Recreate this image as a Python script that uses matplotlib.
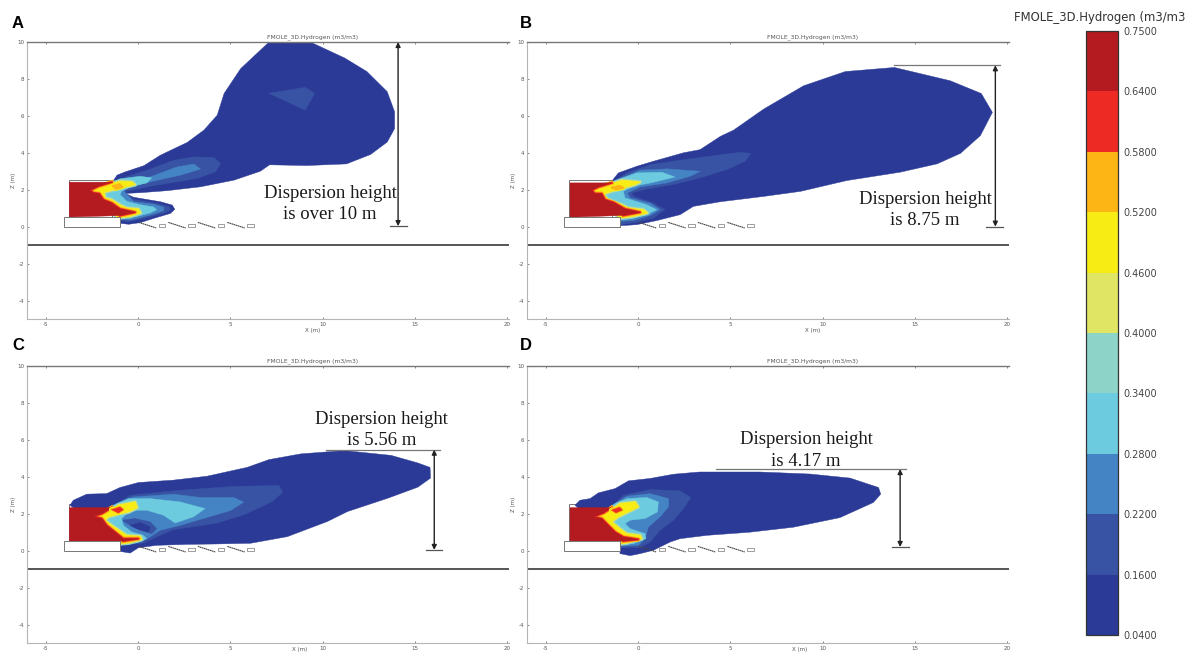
import matplotlib
matplotlib.use('Agg')
import matplotlib.pyplot as plt
from matplotlib.cm import ScalarMappable
from matplotlib.colors import BoundaryNorm, ListedColormap
from matplotlib.patches import Rectangle

# Colour scale
LEVELS = [0.04, 0.16, 0.22, 0.28, 0.34, 0.40, 0.46, 0.52, 0.58, 0.64, 0.75]
COLORS = ['#2a3a96', '#3853a4', '#4484c4', '#6dcbdf', '#8dd3c7',
          '#e1e564', '#f7ec13', '#fdb515', '#ee2a24', '#b31b21']
SCALE_TITLE = 'FMOLE_3D.Hydrogen (m3/m3'
PANEL_TITLE = 'FMOLE_3D.Hydrogen (m3/m3)'

# Axis ticks
X_TICKS = [-5, 0, 5, 10, 15, 20]
Z_TICKS = [-4, -2, 0, 2, 4, 6, 8, 10]

# Geometry on the ground (m)
TRAY_STARTS = [0.04, 1.64, 3.24, 4.84]
TRAY_BOXES = [1.12, 2.72, 4.32, 5.92]

# Panel A contours (x, z in m)
A_OUTER = [(-1.41, 2.38), (-1.14, 2.79), (-0.69, 2.97), (0.31, 3.3), (1.21, 3.87), (2.66, 4.56),
           (3.57, 5.23), (4.29, 6.04), (4.66, 7.21), (5.56, 8.56), (7.1, 10), (9.33, 10),
           (11.2, 9.13), (12.4, 8.4), (13.5, 7.31), (13.9, 6.22), (13.9, 5.31), (13.5, 4.58),
           (12.6, 3.91), (11.3, 3.4), (9.15, 3.31), (7.13, 3.35), (6.62, 3.0), (5.2, 2.52),
           (3.39, 2.16), (1.58, 1.95), (0.13, 1.84), (-0.69, 1.8), (-0.24, 1.59), (1.21, 1.35),
           (1.85, 1.17), (1.99, 0.94), (1.76, 0.72), (0.85, 0.45), (0.13, 0.22), (-0.51, 0.13),
           (-0.96, 0.18), (-1.0, 0.5)]
A_PATCH = [(7.08, 7.22), (9.06, 7.55), (9.57, 7.22), (9.06, 6.31)]
A_L1 = [(-1.3, 2.5), (0.49, 3.06), (1.94, 3.6), (3.03, 3.78), (4.11, 3.75), (4.47, 3.42), (4.2, 2.97),
        (3.2, 2.61), (1.58, 2.34), (0.49, 2.16), (-0.33, 1.98), (-0.78, 1.89), (-0.24, 1.48),
        (1.03, 1.26), (1.67, 1.08), (1.76, 0.9), (1.39, 0.72), (0.31, 0.45), (-0.51, 0.27), (-1.0, 0.35)]
A_L2 = [(-1.3, 2.45), (0.67, 2.7), (2.12, 3.24), (3.03, 3.39), (3.39, 3.12), (2.3, 2.79), (0.67, 2.43),
        (-0.42, 2.16), (-0.78, 1.95), (-0.24, 1.35), (0.85, 1.22), (1.39, 1.05), (1.39, 0.86),
        (0.67, 0.63), (-0.42, 0.36), (-1.0, 0.4)]
A_CYAN = [(-1.43, 2.37), (-0.98, 2.59), (0.11, 2.73), (0.74, 2.64), (0.47, 2.37), (-0.43, 2.15),
          (-0.89, 1.92), (-0.98, 1.74), (-0.61, 1.37), (0.11, 1.19), (0.83, 1.07), (1.01, 0.92),
          (0.65, 0.74), (-0.07, 0.56), (-0.98, 0.47), (-1.88, 1.28), (-1.97, 1.92)]
A_YELLOW = [(-2.78, 1.92), (-2.33, 2.22), (-1.43, 2.33), (-0.98, 2.46), (-0.34, 2.42), (-0.16, 2.28),
            (-0.89, 2.1), (-1.43, 1.97), (-1.84, 1.86), (-1.79, 1.56), (-1.43, 1.46), (-1.01, 1.19),
            (-0.61, 1.01), (0.02, 0.96), (0.14, 0.74), (-0.43, 0.56), (-1.07, 0.49)]
A_NOTCH = [(-1.35, 2.2), (-1.0, 2.3), (-0.85, 2.15), (-1.2, 2.05)]
A_RED = [(-3.73, 2.41), (-1.43, 2.41), (-2.15, 2.19), (-2.6, 1.97), (-2.42, 1.83), (-2.1, 1.79),
         (-1.88, 1.46), (-1.43, 1.28), (-0.98, 0.96), (-0.16, 0.78), (-0.98, 0.6), (-3.73, 0.52)]

# Panel B contours
B_OUTER = [(-1.43, 2.46), (-1.07, 2.91), (-0.07, 3.27), (0.83, 3.54), (2.46, 4.0), (3.36, 4.17),
           (4.46, 4.89), (5.18, 5.23), (6.81, 6.37), (8.97, 7.63), (11.23, 8.4), (13.89, 8.62),
           (16.92, 7.9), (18.6, 7.21), (19.2, 6.19), (18.55, 4.93), (17.47, 3.97), (16.2, 3.4),
           (14.2, 2.95), (11.32, 2.5), (8.79, 1.91), (6.81, 1.64), (4.46, 1.35), (3.0, 1.1),
           (2.28, 0.65), (1.01, 0.33), (-0.07, 0.11), (-0.98, 0.05)]
B_L1 = [(-1.3, 2.46), (-0.61, 2.91), (0.65, 3.36), (2.46, 3.63), (5.53, 4.03), (6.11, 3.96), (5.8, 3.54),
        (4.81, 3.09), (3.36, 2.64), (1.92, 2.28), (0.47, 2.04), (-0.34, 1.83), (-0.25, 1.65), (0.83, 1.28),
        (1.46, 0.92), (0.83, 0.47), (-0.07, 0.24), (-0.98, 0.11)]
B_L2 = [(-1.25, 2.5), (0.11, 3.06), (1.56, 3.13), (3.36, 3.0), (2.82, 2.73), (1.56, 2.37), (0.11, 2.15),
        (-0.58, 1.83), (-0.43, 1.56), (0.65, 1.28), (1.19, 0.92), (0.65, 0.6), (-0.25, 0.34), (-0.98, 0.29)]
B_CYAN = [(-1.34, 2.46), (-0.07, 2.91), (1.28, 2.95), (2.0, 2.69), (0.83, 2.4), (-0.25, 2.19), (-0.8, 1.92),
          (-0.71, 1.56), (0.47, 1.19), (1.01, 0.92), (0.47, 0.65), (-0.43, 0.42), (-0.98, 0.38),
          (-1.88, 1.46), (-1.97, 1.92)]
B_YELLOW = [(-2.6, 2.0), (-2.24, 2.22), (-1.43, 2.31), (-0.89, 2.51), (0.11, 2.42), (-0.16, 2.28), (-0.8, 2.1),
            (-1.61, 1.86), (-1.88, 1.74), (-1.61, 1.46), (-0.89, 1.19), (-0.52, 1.01), (0.29, 0.92),
            (0.51, 0.74), (-0.25, 0.56), (-0.98, 0.47)]
B_NOTCH = [(-1.4, 2.12), (-1.0, 2.2), (-0.8, 2.1), (-1.2, 2.02)]
B_RED = [(-3.69, 2.37), (-1.43, 2.37), (-2.15, 2.15), (-2.51, 1.97), (-2.33, 1.79), (-1.97, 1.79),
         (-1.79, 1.46), (-1.34, 1.32), (-0.71, 0.96), (0.11, 0.78), (-0.8, 0.61), (-3.69, 0.51)]

# Panel C contours
C_OUTER = [(-3.69, 2.46), (-3.51, 2.73), (-2.78, 3.06), (-1.7, 3.09), (-0.98, 3.42), (0.02, 3.69), (1.92, 3.82),
           (3.73, 4.03), (5.91, 4.51), (7.09, 4.93), (8.81, 5.24), (11.17, 5.42), (13.71, 5.16), (15.16, 4.75),
           (15.82, 4.51), (15.85, 3.93), (15.16, 3.44), (13.53, 2.84), (11.35, 2.12), (10.26, 1.58), (8.09, 0.76),
           (6.09, 0.4), (4.09, 0.36), (2.64, 0.34), (1.01, 0.29), (0.02, 0.16), (-0.43, -0.13), (-0.98, -0.04),
           (-1.07, 0.47)]
C_L1 = [(-1.43, 2.4), (-0.43, 3.0), (1.92, 3.24), (3.37, 3.35), (5.18, 3.48), (7.63, 3.53), (7.85, 3.17),
        (7.27, 2.66), (5.73, 1.94), (4.27, 1.49), (1.92, 1.14), (1.01, 0.74), (0.29, 0.42), (-0.43, 0.34), (-0.98, 0.38)]
C_L2 = [(-1.16, 2.55), (-0.25, 2.91), (1.92, 3.06), (3.37, 2.88), (5.18, 2.88), (5.73, 2.63), (5.0, 2.17),
        (3.91, 1.85), (2.28, 1.37), (1.19, 1.1), (0.65, 0.74), (0.11, 0.47), (-0.98, 0.42)]
C_HOLE_L1 = [(-0.89, 1.65), (-0.16, 1.74), (0.65, 1.56), (1.01, 1.19), (0.74, 0.92), (0.11, 1.1), (-0.43, 1.37)]
C_HOLE_L0 = [(-0.43, 1.37), (0.11, 1.52), (0.65, 1.28), (0.56, 1.01), (-0.07, 1.19)]
C_CYAN = [(-1.34, 2.46), (-0.52, 2.82), (0.65, 2.82), (2.28, 2.64), (3.63, 2.28), (3.0, 1.83), (2.01, 1.5),
          (1.37, 1.92), (0.47, 2.19), (-0.43, 2.19), (-0.89, 1.74), (-0.8, 1.37), (-0.34, 1.01), (0.29, 0.83),
          (0.47, 0.65), (-0.07, 0.42), (-0.98, 0.42), (-1.79, 1.65), (-1.88, 2.1)]
C_YELLOW = [(-2.51, 1.92), (-1.97, 2.1), (-1.43, 2.19), (-1.07, 2.46), (-0.16, 2.64), (-0.04, 2.33), (-0.52, 2.1),
            (-0.98, 2.0), (-1.61, 1.83), (-1.79, 1.65), (-1.43, 1.37), (-0.89, 1.01), (-0.61, 0.83), (0.11, 0.78),
            (0.2, 0.61), (-0.52, 0.42), (-0.98, 0.38)]
C_NOTCH = [(-1.43, 2.22), (-0.98, 2.37), (-0.8, 2.22), (-1.07, 2.04)]
C_RED = [(-3.73, 2.33), (-1.43, 2.33), (-1.97, 2.0), (-2.42, 1.86), (-1.97, 1.74), (-1.7, 1.37), (-1.25, 1.01),
         (-0.8, 0.65), (0.02, 0.65), (-0.8, 0.52), (-3.73, 0.47)]

# Panel D contours
D_OUTER = [(-3.42, 2.46), (-3.15, 2.73), (-2.6, 2.82), (-2.15, 3.13), (-1.25, 3.36), (-0.52, 3.78), (0.65, 3.91),
           (1.92, 4.14), (3.33, 4.26), (6.59, 4.26), (9.31, 4.15), (11.49, 3.93), (13.03, 3.42), (13.15, 3.06),
           (12.75, 2.61), (10.94, 1.79), (8.41, 1.27), (6.05, 1.0), (3.73, 0.83), (2.28, 0.65), (1.74, 0.47),
           (0.83, 0.02), (0.11, -0.16), (-0.43, -0.27), (-0.98, -0.16), (-1.01, 0.42)]
D_L1 = [(-1.34, 2.46), (-0.8, 3.0), (0.65, 3.31), (2.28, 3.24), (2.86, 2.88), (2.46, 2.28), (1.92, 1.65),
        (1.19, 1.1), (0.65, 0.47), (0.11, 0.16), (-0.98, 0.16)]
D_L2 = [(-1.25, 2.55), (-0.61, 2.95), (0.65, 3.09), (1.65, 2.82), (1.65, 2.37), (1.19, 1.83), (0.56, 1.28),
        (0.38, 0.65), (0.02, 0.29), (-0.98, 0.24)]
D_CYAN = [(-1.25, 2.55), (-0.61, 2.82), (0.47, 2.88), (1.1, 2.64), (1.05, 2.1), (0.38, 1.74), (-0.43, 1.65),
          (-0.71, 1.46), (-0.43, 1.19), (0.38, 0.92), (0.43, 0.65), (-0.25, 0.38), (-0.98, 0.34), (-1.79, 1.46),
          (-1.88, 2.1)]
D_YELLOW = [(-2.51, 1.92), (-1.88, 2.1), (-1.34, 2.28), (-0.98, 2.55), (-0.16, 2.64), (0.02, 2.37), (-0.52, 2.1),
            (-1.07, 1.83), (-1.43, 1.56), (-0.98, 1.19), (-0.61, 0.92), (0.11, 0.83), (0.2, 0.65), (-0.61, 0.42),
            (-0.98, 0.38)]
D_NOTCH = [(-1.43, 2.2), (-1.0, 2.35), (-0.85, 2.2), (-1.2, 2.05)]
D_RED = [(-3.69, 2.33), (-1.43, 2.33), (-1.88, 2.04), (-2.42, 1.83), (-1.97, 1.74), (-1.61, 1.37), (-1.25, 1.01),
         (-0.8, 0.74), (0.02, 0.61), (-0.8, 0.52), (-3.69, 0.47)]

W, H = 1191, 654
plt.rcParams['axes.unicode_minus'] = False


def box(left, top, right, bottom):
    """Figure fraction rectangle from pixel edges."""
    return [left / W, 1 - bottom / H, (right - left) / W, (bottom - top) / H]


def fill_poly(ax, points, color, zorder, **kwargs):
    xs, zs = zip(*points)
    ax.fill(xs, zs, color=color, lw=0.3, zorder=zorder, **kwargs)


def draw_band(ax, points, inner, middle, outer, zorder):
    """Filled contour with two thin neighbouring levels stroked round it."""
    xs, zs = zip(*(points + points[:1]))
    ax.plot(xs, zs, color=outer, lw=3.0, zorder=zorder, solid_joinstyle='round')
    ax.plot(xs, zs, color=middle, lw=1.5, zorder=zorder, solid_joinstyle='round')
    fill_poly(ax, points, inner, zorder)


def draw_core(ax, points, zorder):
    """Dark red core; only its free edge (not the wall side) gets the thin bands."""
    xs, zs = zip(*points)
    ax.plot(xs[1:-1], zs[1:-1], color=COLORS[7], lw=3.0, zorder=zorder, solid_joinstyle='round')
    ax.plot(xs[1:-1], zs[1:-1], color=COLORS[8], lw=1.6, zorder=zorder, solid_joinstyle='round')
    fill_poly(ax, points, COLORS[9], zorder)


def draw_panel(ax, letter, outer, l1, l2, cyan, yellow, notch, red, height_line, bottom_line, arrow_x,
               note, note_xy):
    ax.set_xlim(-6.02, 20.1)
    ax.set_ylim(-5, 10)
    ax.set_xticks(X_TICKS)
    ax.set_yticks(Z_TICKS)
    ax.tick_params(labelsize=4, colors='#555555', length=1.5, width=0.5, direction='in', pad=2, top=True)
    # The lower panels sit close to the bottom edge, so their label is pulled in beside the 10 tick
    if letter in 'CD':
        ax.set_xlabel('X (m)', fontsize=4, color='#555555', labelpad=-2.5, x=0.565)
    else:
        ax.set_xlabel('X (m)', fontsize=4, color='#555555', labelpad=1, x=0.593)
    ax.set_ylabel('Z (m)', fontsize=4, color='#555555', labelpad=1)
    ax.set_title(PANEL_TITLE, fontsize=4.3, color='#555555', pad=2.5, x=0.593)
    ax.spines['right'].set_visible(False)
    ax.spines['top'].set_color('#777777')
    ax.spines['top'].set_linewidth(1.0)
    ax.spines['left'].set_color('#b5b5b5')
    ax.spines['bottom'].set_color('#b5b5b5')

    # Ground line and building
    ax.axhline(-1, color='#555555', lw=1.4, zorder=1)
    ax.add_patch(Rectangle((-3.75, 0.5), 2.35, 2.0, fc='white', ec='#777777', lw=0.7, zorder=1))

    # Plume levels, low to high
    fill_poly(ax, outer, COLORS[0], 2)
    fill_poly(ax, l1, COLORS[1], 2.1)
    fill_poly(ax, l2, COLORS[2], 2.2)
    if letter == 'C':
        fill_poly(ax, C_HOLE_L1, COLORS[1], 2.3)
        fill_poly(ax, C_HOLE_L0, COLORS[0], 2.31)
    fill_poly(ax, cyan, COLORS[3], 2.4)
    draw_band(ax, yellow, COLORS[6], COLORS[5], COLORS[4], 2.5)
    draw_core(ax, red, 2.6)
    notch_color = COLORS[8] if letter in 'CD' else COLORS[7]
    draw_band(ax, notch, notch_color, COLORS[7], COLORS[6], 2.7)

    # Slab and trays
    ax.add_patch(Rectangle((-4.0, -0.04), 3.0, 0.54, fc='white', ec='#777777', lw=0.7, zorder=3))
    for start, tray in zip(TRAY_STARTS, TRAY_BOXES):
        ax.plot([start, start + 0.94], [0.23, -0.07], color='#444444', lw=0.8, ls=(0, (1.5, 0.4)), zorder=3)
        ax.add_patch(Rectangle((tray, -0.04), 0.35, 0.17, fc='white', ec='#777777', lw=0.5, zorder=3))

    # Height marker
    ax.plot(height_line[0], height_line[1], color='#777777', lw=0.9, zorder=4, clip_on=False)
    ax.plot(bottom_line[0], bottom_line[1], color='#555555', lw=0.9, zorder=4)
    ax.annotate('', xy=(arrow_x, height_line[1][0]), xytext=(arrow_x, bottom_line[1][0]), zorder=5,
                arrowprops=dict(arrowstyle='<|-|>', color='#222222', lw=1.0, mutation_scale=7,
                                shrinkA=0, shrinkB=0))
    ax.text(note_xy[0], note_xy[1], note, family='Liberation Serif', fontsize=13.5, color='#1a1a1a',
            ha='center', va='center', linespacing=1.32, zorder=6)


fig = plt.figure(figsize=(W / 100, H / 100), dpi=100)
ax_a = fig.add_axes(box(27, 42, 509, 319))
ax_b = fig.add_axes(box(527, 42, 1009, 319))
ax_c = fig.add_axes(box(27, 366, 509, 643))
ax_d = fig.add_axes(box(527, 366, 1009, 643))

draw_panel(ax_a, 'A', A_OUTER, A_L1, A_L2, A_CYAN, A_YELLOW, A_NOTCH, A_RED,
           ([14.09, 14.09], [10, 10]), ([13.65, 14.55], [0.03, 0.03]), 14.09,
           'Dispersion height\nis over 10 m', (10.4, 1.25))
fill_poly(ax_a, A_PATCH, COLORS[1], 2.05)
draw_panel(ax_b, 'B', B_OUTER, B_L1, B_L2, B_CYAN, B_YELLOW, B_NOTCH, B_RED,
           ([13.85, 19.6], [8.74, 8.74]), ([18.87, 19.8], [0, 0]), 19.36,
           'Dispersion height\nis 8.75 m', (15.55, 0.92))
draw_panel(ax_c, 'C', C_OUTER, C_L1, C_L2, C_CYAN, C_YELLOW, C_NOTCH, C_RED,
           ([10.17, 16.36], [5.47, 5.47]), ([15.62, 16.47], [0.04, 0.04]), 16.05,
           'Dispersion height\nis 5.56 m', (13.2, 6.55))
draw_panel(ax_d, 'D', D_OUTER, D_L1, D_L2, D_CYAN, D_YELLOW, D_NOTCH, D_RED,
           ([4.24, 14.53], [4.42, 4.42]), ([13.75, 14.66], [0.2, 0.2]), 14.2,
           'Dispersion height\nis 4.17 m', (9.1, 5.42))

# Panel letters
for letter, px, py in [('A', 12, 23), ('B', 520, 23), ('C', 12, 346), ('D', 520, 346)]:
    fig.text(px / W, 1 - py / H, letter, family='Liberation Sans', fontweight='bold', fontsize=12,
             ha='left', va='center', color='black')

# Colour bar with equal height bands
cax = fig.add_axes(box(1086, 31, 1118, 635))
cmap = ListedColormap(COLORS)
norm = BoundaryNorm(LEVELS, cmap.N)
cbar = fig.colorbar(ScalarMappable(norm=norm, cmap=cmap), cax=cax, spacing='uniform', ticks=LEVELS, format='%.4f')
cbar.ax.tick_params(length=0, pad=4, labelsize=7, labelcolor='#444444')
cbar.outline.set_edgecolor('#333333')
cbar.outline.set_linewidth(0.9)
fig.text(1014 / W, 1 - 18 / H, SCALE_TITLE, fontsize=8.4, color='#333333', ha='left', va='center')

fig.savefig('out.png', dpi=100)
